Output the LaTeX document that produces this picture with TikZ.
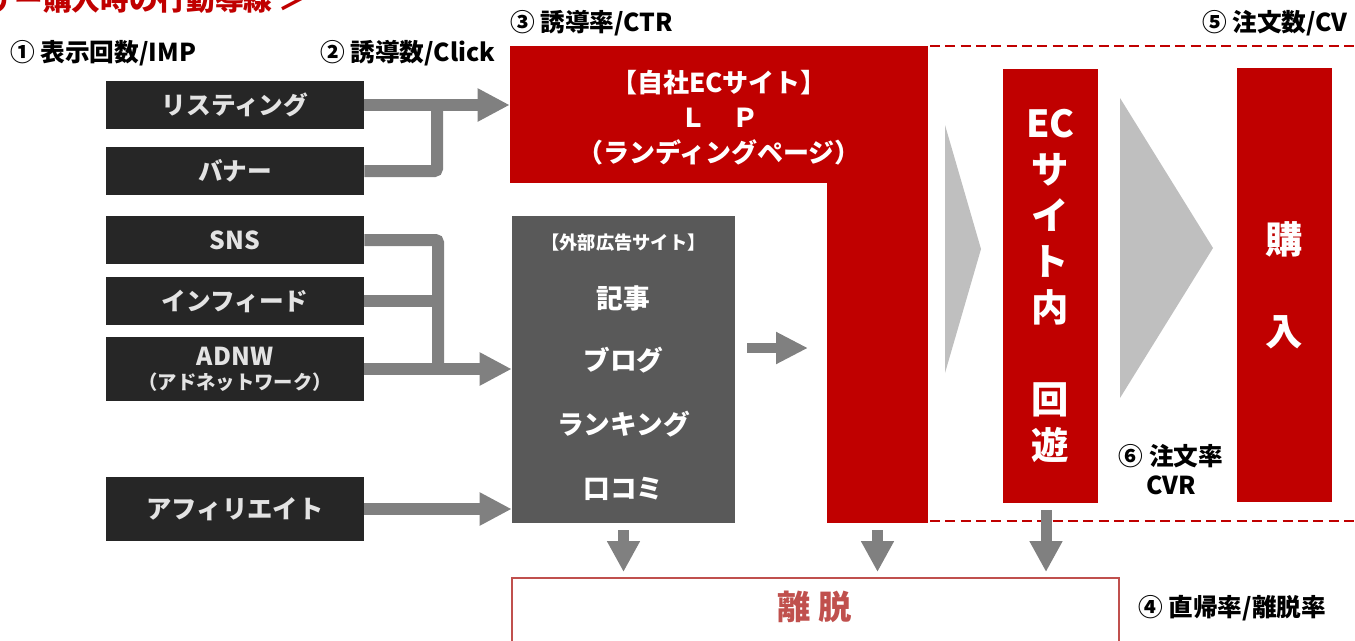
\documentclass[tikz,border=0pt]{standalone}
\usepackage{fontspec}
\newfontfamily\jp{Noto Sans CJK JP}
\usetikzlibrary{arrows.meta}
\definecolor{myred}{HTML}{C00000}
\definecolor{darkbox}{HTML}{262626}
\definecolor{boxtext}{HTML}{E3E3E3}
\definecolor{extgray}{HTML}{595959}
\definecolor{arrgray}{HTML}{808080}
\definecolor{trigray}{HTML}{BFBFBF}
\definecolor{exitred}{HTML}{C0504D}
\newcommand{\fsz}[2]{\fontsize{#1}{#2}\selectfont}
\begin{document}
\begin{tikzpicture}[x=0.75pt,y=-0.75pt,
  lbl/.style={inner sep=0pt, text=black, font=\jp\bfseries\fsz{18.5}{22}},
  srcbox/.style={fill=darkbox, inner sep=0pt, minimum width=193.5pt, text=boxtext, font=\jp\bfseries\fsz{18.5}{22}},
  conn/.style={draw=arrgray, line width=9pt, rounded corners=2pt},
  arr/.style={conn, -{Triangle[length=24pt, width=23.25pt]}},
  darr/.style={draw=arrgray, line width=8.25pt, -{Triangle[length=23.25pt, width=23.25pt]}},
  redbox/.style={fill=myred, inner sep=0pt},
  wtext/.style={text=white, inner sep=0pt, align=center},
  reddash/.style={draw=myred, line width=1.5pt, dash pattern=on 7.5pt off 4pt},
  tri/.style={fill=trigray},
]
\useasboundingbox (0,0) rectangle (1355,640);
\clip (0,0) rectangle (1355,640);

% title (cut off at the top-left, as in the reference)
\node[anchor=west, inner sep=0pt, text=myred, font=\jp\bfseries\fsz{21.5}{25}] (title) at (-100,0) {＜ユーザー購入時の行動導線 ＞};

% labels
\node[lbl, anchor=west] (l1) at (10,53) {① 表示回数/IMP};
\node[lbl, anchor=west] (l2) at (320,53) {② 誘導数/Click};
\node[lbl, anchor=west] (l3) at (510,23) {③ 誘導率/CTR};
\node[lbl, anchor=east] (l5) at (1348,23) {⑤ 注文数/CV};
\node[lbl, align=center, font=\jp\bfseries\fsz{18.5}{21.75}] (l6) at (1171,470) {⑥ 注文率\\CVR};
\node[lbl, anchor=west] (l4) at (1138,608) {④ 直帰率/離脱率};

% source boxes
\node[srcbox, minimum height=36pt] (lst) at (235,105) {リスティング};
\node[srcbox, minimum height=36pt] (ban) at (235,171) {バナー};
\node[srcbox, minimum height=36pt] (sns) at (235,240) {SNS};
\node[srcbox, minimum height=36pt] (inf) at (235,301) {インフィード};
\node[srcbox, minimum height=48pt, align=center] (adnw) at (235,369) {ADNW\\[-4pt]{\fsz{14.5}{17}（アドネットワーク）}};
\node[srcbox, minimum height=48pt, font=\jp\bfseries\fsz{19}{22}] (aff) at (235,509) {アフィリエイト};

% LP (L-shape)
\node[redbox, minimum width=313.5pt, minimum height=102.75pt] (lp) at (719,114.5) {};
\node[redbox, minimum width=75.75pt, minimum height=357.75pt] (lpv) at (877.5,284.5) {};
\node[wtext, font=\jp\bfseries\fsz{19.5}{26.25}] (lptxt) at (719,118) {【自社ECサイト】\\Ｌ　Ｐ\\（ランディングページ）};

% external ad site
\node[fill=extgray, inner sep=0pt, minimum width=167.25pt, minimum height=230.25pt] (ext) at (623.5,369.5) {};
\node[wtext, font=\jp\bfseries\fsz{13.7}{16}] (exth) at (623.5,243) {【外部広告サイト】};
\node[wtext, font=\jp\bfseries\fsz{20}{24}] (ext1) at (623.5,298) {記事};
\node[wtext, font=\jp\bfseries\fsz{20}{24}] (ext2) at (623.5,360) {ブログ};
\node[wtext, font=\jp\bfseries\fsz{20}{24}] (ext3) at (623.5,424) {ランキング};
\node[wtext, font=\jp\bfseries\fsz{20}{24}] (ext4) at (623.5,489) {口コミ};

% EC site and purchase
\node[redbox, minimum width=71.25pt, minimum height=325.5pt, text=white, align=center, font=\jp\bfseries\fsz{28}{34.5}] (ec) at (1050.5,286) {EC\\サ\\イ\\ト\\内\\\mbox{}\\回\\遊};
\node[redbox, minimum width=71.25pt, minimum height=325.5pt, text=white, align=center, font=\jp\bfseries\fsz{28}{34.5}] (buy) at (1284.5,285) {購\\\mbox{}\\入};

% chevrons
\fill[tri] (945,125) -- (981,249) -- (945,373) -- cycle;
\fill[tri] (1120,98) -- (1213,248) -- (1120,398) -- cycle;

% dashed region lines
\coordinate (dt1) at (930,46);
\coordinate (dt2) at (1355,46);
\coordinate (db1) at (930,521);
\coordinate (db2) at (1355,521);
\draw[reddash] (dt1) -- (dt2);
\draw[reddash] (db1) -- (db2);

% exit box
\node[draw=exitred, line width=1.5pt, inner sep=0pt, minimum width=455.25pt, minimum height=56.25pt] (exit) at (815.5,615.5) {};
\node[inner sep=0pt, text=exitred, font=\jp\bfseries\fsz{25}{30}] (exittxt) at (815,607) {離 脱};

% connectors
\coordinate (j1) at (437,106);
\coordinate (j2) at (438,369);
\draw[conn] (ban.east) -| (j1);
\draw[arr] (lst.east) -- (lst.east -| lp.west);
\draw[conn] (sns.east) -| (j2);
\draw[conn] (inf.east) -- (inf.east -| j2);
\draw[arr] (adnw.east) -- (adnw.east -| ext.west);
\draw[arr] (aff.east) -- (aff.east -| ext.west);

\coordinate (e1) at (747,348);
\coordinate (e2) at (808,348);
\draw[draw=arrgray, line width=7.5pt, -{Triangle[length=24pt, width=22.5pt]}] (e1) -- (e2);

\draw[darr] ([yshift=-5.25pt]ext.south) -- ([yshift=3.75pt]ext.south |- exit.north);
\draw[darr] ([yshift=-5.25pt]lpv.south) -- ([yshift=3.75pt]lpv.south |- exit.north);
\coordinate (ecd) at (1046,510);
\draw[darr] (ecd) -- ([yshift=3.75pt]ecd |- exit.north);
\end{tikzpicture}
\end{document}
